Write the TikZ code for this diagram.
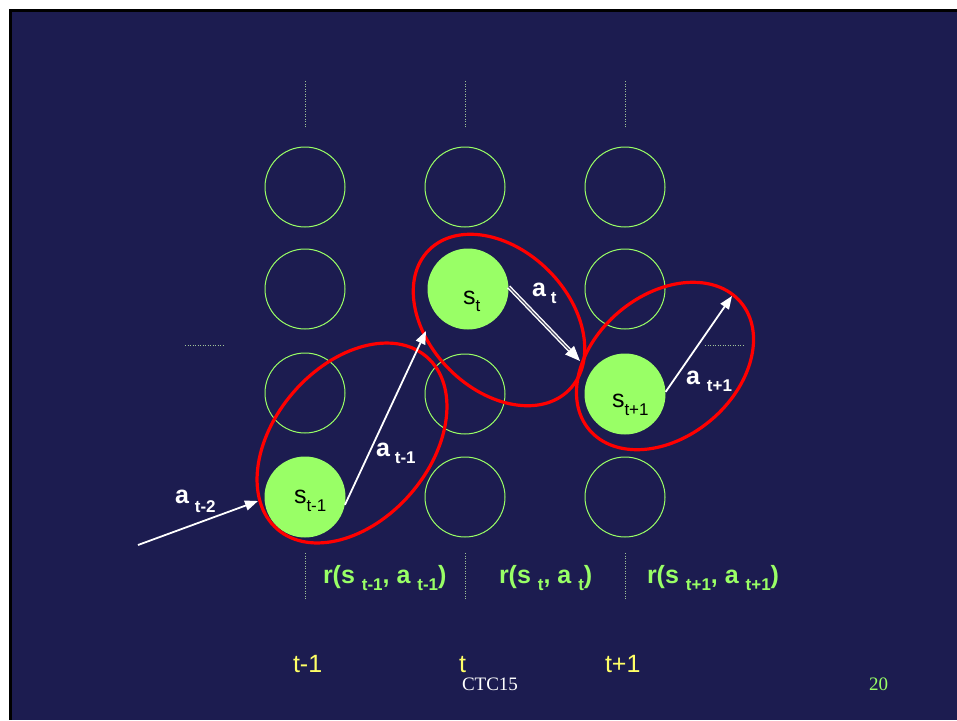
\documentclass[tikz,border=0pt]{standalone}
\usepackage{fontspec}
\setmainfont{Liberation Sans}
\newfontfamily\serifface{Liberation Serif}
\usetikzlibrary{shapes.geometric,arrows.meta}
\definecolor{navy}{RGB}{28,28,80}
\definecolor{lgreen}{RGB}{153,255,102}
\definecolor{yel}{RGB}{255,255,102}
\definecolor{dotc}{RGB}{160,195,150}
\newcommand{\bigfnt}{\fontsize{25}{28}\selectfont}
\newcommand{\mysub}[2]{\raisebox{-#1pt}{\fontsize{17}{17}\selectfont #2}}
\begin{document}
\begin{tikzpicture}[x=1pt,y=-1pt,
  lbl/.style={inner sep=0pt, outer sep=0pt, anchor=base west},
  ring/.style={circle, draw=lgreen, line width=1pt, minimum size=80pt, inner sep=0pt},
  statec/.style={circle, fill=lgreen, minimum size=81pt, inner sep=0pt},
  oval/.style={ellipse, draw=red, line width=3.2pt, inner sep=0pt, outer sep=0pt},
  arr/.style={draw=white, line width=1.8pt, -{Triangle[length=13pt,width=10pt]}},
  dblarr/.style={draw=white, line width=1.4pt, double=gray!50!navy, double distance=1.2pt, -{Triangle[length=15pt,width=12pt]}},
  dotline/.style={draw=dotc, line width=0.9pt, dash pattern=on 1pt off 1.5pt}
]
\useasboundingbox (0,0) rectangle (957,720);
\fill[white] (0,0) rectangle (957,720);
\fill[black] (9,9) rectangle (957,720);
\fill[navy] (12,12) rectangle (957,720);

% dotted guide lines
\coordinate (vt1a) at (305,81);  \coordinate (vt1b) at (305,127);
\coordinate (vt2a) at (465,81);  \coordinate (vt2b) at (465,127);
\coordinate (vt3a) at (625,81);  \coordinate (vt3b) at (625,127);
\coordinate (vb1a) at (305,553); \coordinate (vb1b) at (305,599);
\coordinate (vb2a) at (465,553); \coordinate (vb2b) at (465,599);
\coordinate (vb3a) at (625,553); \coordinate (vb3b) at (625,599);
\coordinate (hla) at (185,345);  \coordinate (hlb) at (224,345);
\coordinate (hra) at (705,345);  \coordinate (hrb) at (743,345);
\foreach \p/\q in {vt1a/vt1b,vt2a/vt2b,vt3a/vt3b,vb1a/vb1b,vb2a/vb2b,vb3a/vb3b,hla/hlb,hra/hrb}
  \draw[dotline] (\p) -- (\q);

% empty state circles
\node[ring] (c11) at (305,187) {};
\node[ring] (c12) at (305,289) {};
\node[ring] (c13) at (305,393) {};
\node[ring] (c21) at (465,187) {};
\node[ring] (c23) at (465,394) {};
\node[ring] (c24) at (465,497) {};
\node[ring] (c31) at (625,187) {};
\node[ring] (c32) at (625,289) {};
\node[ring] (c34) at (625,497) {};

% filled states
\node[statec] (s1) at (305,497) {};
\node[statec] (s2) at (468,289) {};
\node[statec] (s3) at (625,394) {};

\node[lbl,font=\bigfnt] (ls1) at (294,503) {s\mysub{8}{t-1}};
\node[lbl,font=\bigfnt] (ls2) at (463,304) {s\mysub{7}{t}};
\node[lbl,font=\bigfnt] (ls3) at (612,407) {s\mysub{8}{t+1}};

% red ellipses
\node[oval, minimum width=228pt, minimum height=155pt, rotate=49] (e1) at (352,443) {};
\node[oval, minimum width=198pt, minimum height=140pt, rotate=-45] (e2) at (499,320) {};
\node[oval, minimum width=198pt, minimum height=142pt, rotate=40] (e3) at (665,366) {};

% arrows
\coordinate (a2s) at (138,545);
\coordinate (a2e) at (258,501);
\coordinate (a1e) at (426,331);
\coordinate (a0e) at (580,361);
\coordinate (a3e) at (732,296);
\draw[arr] (a2s) -- (a2e);
\draw[arr] (s1.-11) -- (a1e);
\draw[dblarr] (s2.3) -- (a0e);
\draw[arr] (s3.3) -- (a3e);

% action labels
\node[lbl,text=white,font=\bigfnt\bfseries] (la2) at (175,503) {a\hspace{6pt}\mysub{9}{t-2}};
\node[lbl,text=white,font=\bigfnt\bfseries] (la1) at (376,456) {a\hspace{5pt}\mysub{7}{t-1}};
\node[lbl,text=white,font=\bigfnt\bfseries] (la0) at (532,296) {a\hspace{5pt}\mysub{7}{t}};
\node[lbl,text=white,font=\bigfnt\bfseries] (la3) at (686,384) {a\hspace{7pt}\mysub{7}{t+1}};

% reward labels
\node[lbl,text=lgreen,font=\bigfnt\bfseries] (r1) at (323,583) {r(s\ \mysub{7}{t-1}, a\ \mysub{7}{t-1})};
\node[lbl,text=lgreen,font=\bigfnt\bfseries] (r2) at (499,583) {r(s\ \mysub{7}{t}, a\ \mysub{7}{t})};
\node[lbl,text=lgreen,font=\bigfnt\bfseries] (r3) at (647,583) {r(s\ \mysub{7}{t+1}, a\ \mysub{7}{t+1})};

% time labels
\node[lbl,text=yel,font=\fontsize{25}{28}\selectfont] (t1) at (293,672) {t-1};
\node[lbl,text=yel,font=\fontsize{25}{28}\selectfont] (t2) at (459,672) {t};
\node[lbl,text=yel,font=\fontsize{25}{28}\selectfont] (t3) at (605,672) {t+1};

% footer
\node[lbl,text=white,font=\serifface\fontsize{19}{20}\selectfont] (foot) at (462,690) {CTC15};
\node[lbl,text=lgreen,font=\serifface\fontsize{19}{20}\selectfont] (pg) at (869,690) {20};
\end{tikzpicture}
\end{document}
